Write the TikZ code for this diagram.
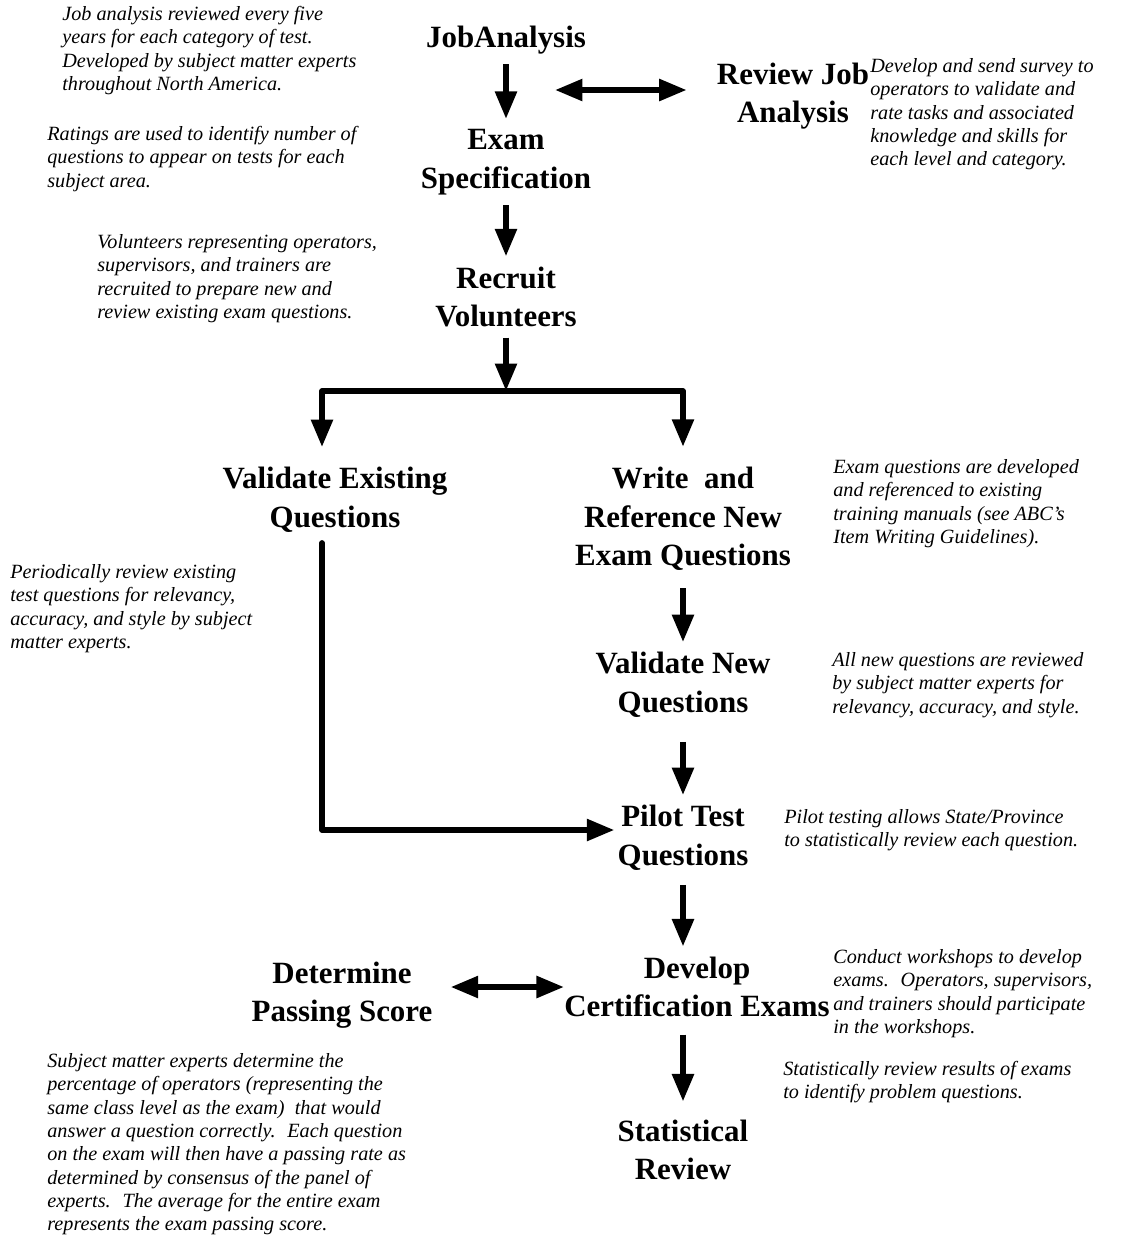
\documentclass[tikz,border=0pt]{standalone}
\usepackage{fontspec}
\setmainfont{Liberation Serif}
\usepackage{tikz}
\usetikzlibrary{arrows.meta}
\tikzstyle{Step}=[align=center, inner sep=0.2cm, font=\bfseries\fontsize{17.6}{22}\selectfont]
\tikzstyle{Note}=[align=left, anchor=north west, inner sep=0, font=\itshape\fontsize{11.5}{13.3}\selectfont]
\tikzstyle{Arrow}=[line width=3.2pt, line join=round, -{Triangle[length=0.55cm, width=0.42cm]}]
\tikzstyle{DArrow}=[line width=3.2pt, {Triangle[length=0.55cm, width=0.42cm]}-{Triangle[length=0.55cm, width=0.42cm]}]
\begin{document}
\begin{tikzpicture}[x=0.02cm, y=-0.02cm]
    \useasboundingbox (0,0) rectangle (1142,1259);
    \path
    (506,40) node[Step] (job) {JobAnalysis}
    (793,96) node[Step] (review) {Review Job\\Analysis}
    (506,162) node[Step] (spec) {Exam\\Specification}
    (506,297) node[Step] (recruit) {Recruit\\Volunteers}
    (335,500) node[Step] (valex) {Validate Existing\\Questions}
    (683,519) node[Step] (write) {Write~ and\\Reference New\\Exam Questions}
    (683,685) node[Step] (valnew) {Validate New\\Questions}
    (683,838) node[Step] (pilot) {Pilot Test\\Questions}
    (697,987) node[Step] (develop) {Develop\\Certification Exams}
    (342,995) node[Step] (passing) {Determine\\Passing Score}
    (683,1150) node[Step] (stat) {Statistical\\Review};

    \path
    (62,6) node[Note] (jobnote) {Job analysis reviewed every five\\years for each category of test.\\Developed by subject matter experts\\throughout North America.}
    (47,126) node[Note] (specnote) {Ratings are used to identify number of\\questions to appear on tests for each\\subject area.}
    (870,58) node[Note] (reviewnote) {Develop and send survey to\\operators to validate and\\rate tasks and associated\\knowledge and skills for\\each level and category.}
    (97,234) node[Note] (recruitnote) {Volunteers representing operators,\\supervisors, and trainers are\\recruited to prepare new and\\review existing exam questions.}
    (833,459) node[Note] (writenote) {Exam questions are developed\\and referenced to existing\\training manuals (see ABC's\\Item Writing Guidelines).}
    (10,564) node[Note] (valexnote) {Periodically review existing\\test questions for relevancy,\\accuracy, and style by subject\\matter experts.}
    (832,652) node[Note] (valnewnote) {All new questions are reviewed\\by subject matter experts for\\relevancy, accuracy, and style.}
    (784,809) node[Note] (pilotnote) {Pilot testing allows State/Province\\to statistically review each question.}
    (833,949) node[Note] (developnote) {Conduct workshops to develop\\exams.~ Operators, supervisors,\\and trainers should participate\\in the workshops.}
    (47,1053) node[Note] (passingnote) {Subject matter experts determine the\\percentage of operators (representing the\\same class level as the exam)~ that would\\answer a question correctly.~ Each question\\on the exam will then have a passing rate as\\determined by consensus of the panel of\\experts.~ The average for the entire exam\\represents the exam passing score.}
    (783,1061) node[Note] (statnote) {Statistically review results of exams\\to identify problem questions.};

    \coordinate (jobside) at (555,90);
    \coordinate (fork) at (506,391);
    \coordinate (forkL) at (322,391);
    \coordinate (forkR) at (683,391);

    \draw[Arrow] (job) -- (spec);
    \draw[DArrow, shorten >=0.4cm] (jobside) -- (jobside -| review.west);
    \draw[Arrow] (spec) -- (recruit);
    \draw[Arrow] (recruit) -- (fork);
    \draw[Arrow, shorten >=0.2cm] (fork) -- (forkL) -- (forkL |- valex.north);
    \draw[Arrow, shorten >=0.2cm] (fork) -- (forkR) -- (write);
    \draw[Arrow, line cap=round, shorten >=-0.14cm] (valex.south -| forkL) |- ([yshift=0.16cm]pilot.west);
    \draw[Arrow, shorten <=0.14cm] (write) -- (valnew);
    \draw[Arrow, shorten <=0.28cm] (valnew) -- (pilot);
    \draw[Arrow, shorten <=0.08cm] (pilot.south -| forkR) -- (develop.north -| forkR);
    \draw[DArrow, shorten <=0.16cm, shorten >=-0.2cm] (passing.east |- develop) -- (develop.west);
    \draw[Arrow, shorten <=0.14cm, shorten >=0.16cm] (develop.south -| forkR) -- (stat);
\end{tikzpicture}
\end{document}
